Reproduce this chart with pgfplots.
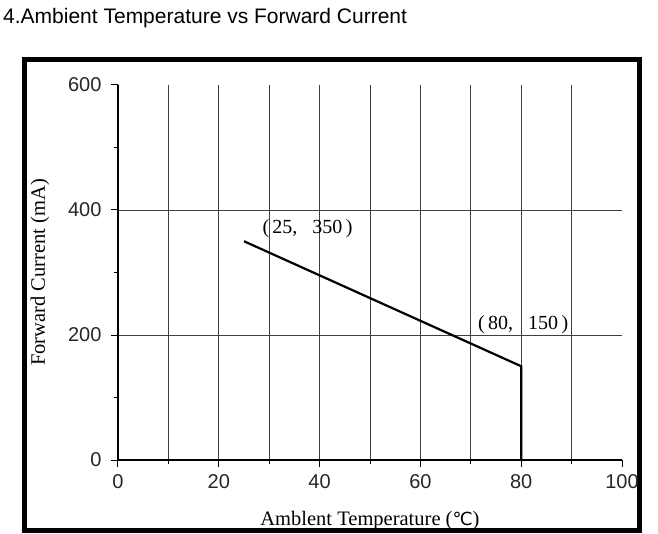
\documentclass[border=0pt]{standalone}
\usepackage{fontspec}
\setmainfont{Liberation Serif}
\newfontfamily\arial{Liberation Sans}
\newfontfamily\dejavu{DejaVu Sans}
\usepackage{pgfplots}
\pgfplotsset{compat=1.18}

\begin{document}
\begin{tikzpicture}
\useasboundingbox (-118pt,-73pt) rectangle (540pt,460pt);
% title and outer frame
\node[anchor=base west, inner sep=0pt, font=\arial\fontsize{21}{24}\selectfont] at (-115pt,436pt) {4.Ambient Temperature vs Forward Current};
\draw[line width=5pt] (-93.5pt,-70.5pt) rectangle (521.5pt,400.5pt);

\begin{axis}[
    at={(0,0)}, anchor=south west,
    scale only axis,
    width=504pt, height=375pt,
    xmin=0, xmax=100, ymin=0, ymax=600,
    axis x line=bottom, axis y line=left,
    axis line style={-, line width=1.2pt},
    xtick={0,20,...,80}, minor xtick={10,30,...,90},
    extra x ticks={100}, extra x tick style={grid=none},
    ytick={0,200,400}, minor ytick={100,300,500},
    extra y ticks={600}, extra y tick style={grid=none},
    xmajorgrids, xminorgrids, ymajorgrids,
    major grid style={line width=0.9pt, black!75},
    minor grid style={line width=0.9pt, black!75},
    tick align=outside,
    major tick length=7pt, minor tick length=4pt,
    tick style={black, line width=1pt},
    /pgf/number format/assume math mode=true,
    ticklabel style={font=\arial\fontsize{20}{24}\selectfont, text=black!85},
    xticklabel style={yshift=-4pt},
    yticklabel style={xshift=-6pt},
    xlabel={Amblent Temperature ({\dejavu\fontsize{18}{20}\selectfont ℃})},
    ylabel={Forward Current (mA)},
    label style={font=\fontsize{20.5}{23}\selectfont},
    xlabel style={at={(rel axis cs:0.5,-0.175)}, anchor=base},
    ylabel style={at={(rel axis cs:-0.155,0.5)}, anchor=center},
    clip=false,
]
\addplot[black, line width=2.2pt, mark=none] coordinates {(25,350) (80,150) (80,0)};
\node[font=\fontsize{20}{22}\selectfont] at (axis cs:37.6,370) {(\,25,\ \ \ 350\,)};
\node[font=\fontsize{20}{22}\selectfont] at (axis cs:80.4,217) {(\,80,\ \ \ 150\,)};
\end{axis}
\end{tikzpicture}
\end{document}
